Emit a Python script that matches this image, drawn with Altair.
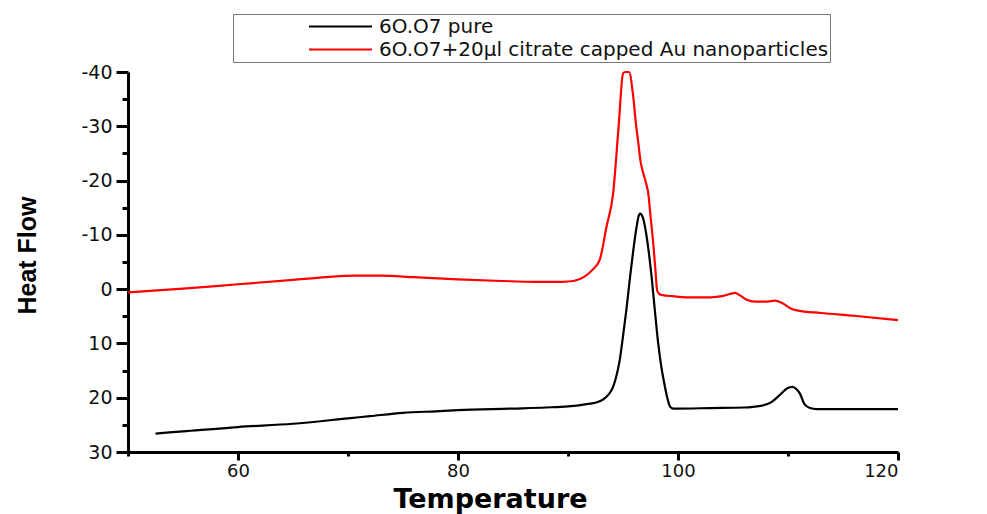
import altair as alt
import pandas as pd

series = ["6O.O7 pure", "6O.O7+20\u03bcl citrate capped Au nanoparticles"]
colors = ["#000000", "#ff0000"]

pure_t = [52.5, 55, 60, 65, 70, 72, 75, 78, 80, 85, 88, 90, 91, 92, 92.7, 93.2, 93.7,
          94.1, 94.4, 94.7, 95.0, 95.3, 95.6, 95.9, 96.2, 96.4, 96.55, 96.8, 97.0, 97.3,
          97.6, 97.9, 98.2, 98.5, 98.7, 99.0, 99.3, 99.6, 100, 103, 106, 107.5, 108.5,
          109.3, 109.9, 110.4, 110.8, 111.1, 111.5, 112, 112.6, 115, 120]
pure_hf = [26.6, 26.2, 25.4, 24.8, 23.8, 23.4, 22.8, 22.5, 22.3, 22.0, 21.8, 21.6, 21.4,
           21.1, 20.8, 20.3, 19.4, 18.0, 16.0, 13.1, 8.7, 3.9, -1.5, -6.6, -11.0, -13.3,
           -13.9, -13.2, -11.5, -7.5, -2.3, 4.0, 10.0, 14.5, 16.8, 19.8, 21.7, 22.0, 22.0,
           21.9, 21.8, 21.5, 20.8, 19.4, 18.3, 18.0, 18.5, 19.3, 21.2, 21.9, 22.1, 22.1, 22.1]

au_t = [50, 55, 60, 65, 68, 70.6, 73, 76, 80, 84, 87, 89.5, 90.5, 91.5, 92.2, 92.9, 93.5,
        94.1, 94.6, 95.0, 95.2, 95.55, 95.9, 96.2, 96.4, 96.6, 96.85, 97.1, 97.3, 97.5,
        97.75, 97.95, 98.1, 98.3, 98.6, 99.5, 101, 103, 104, 104.7, 105.2, 105.6, 106.2,
        107, 108, 108.8, 109.5, 110.2, 110.8, 113, 116, 120]
au_hf = [0.6, -0.1, -0.9, -1.7, -2.2, -2.5, -2.5, -2.2, -1.8, -1.5, -1.35, -1.35, -1.5,
         -2.3, -3.5, -5.5, -11.5, -17.6, -29.9, -39.7, -40.0, -40.0, -36.0, -30.0, -26.8,
         -23.5, -21.3, -19.5, -17.6, -13.5, -8.4, -3.5, 0.2, 0.9, 1.1, 1.3, 1.5, 1.5, 1.3,
         0.9, 0.7, 1.1, 1.9, 2.3, 2.3, 2.1, 2.6, 3.5, 3.9, 4.4, 4.9, 5.7]

x_ticks = [50, 60, 70, 80, 90, 100, 110, 120]
y_ticks = [-40, -35, -30, -25, -20, -15, -10, -5, 0, 5, 10, 15, 20, 25, 30]

df = pd.concat([
    pd.DataFrame({"T": pure_t, "HF": pure_hf, "s": series[0]}),
    pd.DataFrame({"T": au_t, "HF": au_hf, "s": series[1]}),
], ignore_index=True)

x_axis = alt.Axis(
    values=x_ticks,
    labelExpr="datum.value % 20 === 0 ? '' + datum.value : ''",
    tickSize={"condition": {"test": "datum.value % 20 === 0", "value": 8}, "value": 4},
    labelPadding=2,
    labelFont="DejaVu Sans", labelFontSize=18, labelColor="#111",
    grid=False, domainWidth=3, domainColor="#000", tickWidth=3, tickColor="#000",
    title="Temperature", titleFont="DejaVu Sans", titleFontWeight="bold",
    titleFontSize=27, titleColor="#000", titleX=362, titleY=55,
    titleAlign="center", titleBaseline="alphabetic",
)
y_axis = alt.Axis(
    values=y_ticks,
    labelExpr="datum.value % 10 === 0 ? '' + datum.value : ''",
    tickSize={"condition": {"test": "datum.value % 10 === 0", "value": 12}, "value": 6},
    labelPadding=4,
    labelFont="DejaVu Sans", labelFontSize=19, labelColor="#111",
    grid=False, domainWidth=3, domainColor="#000", tickWidth=3, tickColor="#000",
    title="Heat Flow", titleFont="Liberation Sans",
    titleFontWeight="bold", titleFontSize=25, titleColor="#000",
    titleX=-101, titleY=183, titleAngle=270, titleAlign="center", titleBaseline="middle",
)

chart = alt.Chart(df).mark_line(interpolate="monotone", strokeWidth=2.2).encode(
    x=alt.X("T:Q", scale=alt.Scale(domain=[50, 120], nice=False, zero=False), axis=x_axis),
    y=alt.Y("HF:Q", scale=alt.Scale(domain=[-40, 30], reverse=True, nice=False, zero=False),
            axis=y_axis),
    color=alt.Color("s:N", scale=alt.Scale(domain=series, range=colors),
                    legend=alt.Legend(
                        title=None, orient="none", legendX=105, legendY=-58,
                        symbolType="stroke", symbolSize=3969, symbolStrokeWidth=2,
                        symbolOffset=74, labelOffset=6, clipHeight=23, rowPadding=0,
                        labelFont="DejaVu Sans", labelFontSize=20, labelColor="#111",
                        labelLimit=900, padding=1, strokeColor="#777")),
).properties(
    width=770, height=380,
    autosize=alt.AutoSizeParams(type="none"),
    padding={"left": 120, "top": 64, "right": 73, "bottom": 62},
).configure_view(stroke=None)

chart.save("out.html", embed_options={"renderer": "svg", "actions": False})
